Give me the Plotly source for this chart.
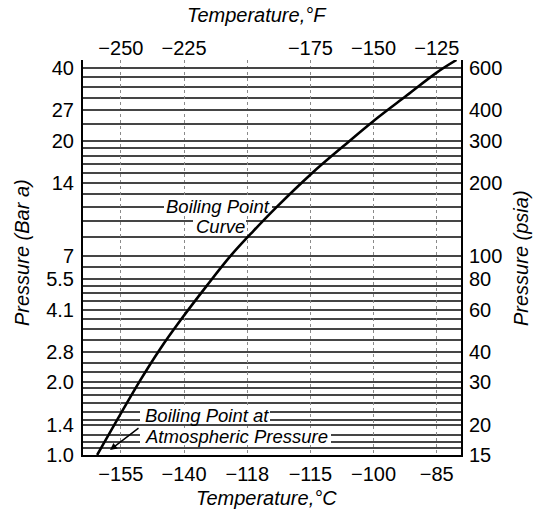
import math
import plotly.graph_objects as go

# ---- data ----
temp_f = [-259.4, -242.3, -234.4, -226.5, -215.9, -206.6, -197.5, -188.2,
          -174.6, -161.9, -150.0, -136.8, -124.9, -117.2]
pressure_psia = [15, 30.6, 41.3, 54, 75.5, 100, 127, 160,
                 219, 285, 362, 462, 575, 647]

grid_psia = [16, 17, 18.2, 20, 20.9, 22.7, 24.6, 26.6, 28.3, 30, 33, 36, 40,
             45, 50, 55, 60, 65, 70, 75, 80, 90, 100, 120, 140, 160, 180, 200,
             220, 240, 260, 280, 300, 350, 400, 450, 500, 550, 600]

f_ticks_top = [-250, -225, -175, -150, -125]
f_ticktext_top = ["\u2212250", "\u2212225", "\u2212175", "\u2212150", "\u2212125"]
f_ticks_bottom = [-250, -225, -200, -175, -150, -125]
c_ticktext_bottom = ["\u2212155", "\u2212140", "\u2212118", "\u2212115", "\u2212100", "\u221285"]

psia_ticks = [15, 20, 30, 40, 60, 80, 100, 200, 300, 400, 600]
psia_ticktext = ["15", "20", "30", "40", "60", "80", "100", "200", "300", "400", "600"]
bar_ticktext = ["1.0", "1.4", "2.0", "2.8", "4.1", "5.5", "7", "14", "20", "27", "40"]

x_range = [-265, -115.4]
y_range = [math.log10(15), math.log10(647)]

FONT = "Liberation Sans, Arial, Helvetica, sans-serif"

W, H = 533, 514
L, R, T, B = 83, 72, 60, 59
PW, PH = W - L - R, H - T - B


def px_x(px):  # pixel -> paper x
    return (px - L) / PW


def px_y(py):  # pixel -> paper y
    return 1 - (py - T) / PH


def fx(px):  # pixel -> data x (deg F)
    return x_range[0] + (px - L) / PW * (x_range[1] - x_range[0])


def ly(py):  # pixel -> log10 of data y
    return y_range[0] + (T + PH - py) / PH * (y_range[1] - y_range[0])


GRID = "#454545"

fig = go.Figure()
fig.add_trace(go.Scatter(x=temp_f, y=pressure_psia, mode="lines",
                         line=dict(color="black", width=2.6, shape="spline", smoothing=1.0),
                         showlegend=False, xaxis="x", yaxis="y"))
fig.add_trace(go.Scatter(x=temp_f[:1], y=pressure_psia[:1], mode="markers",
                         marker=dict(color="black", size=6),
                         showlegend=False, xaxis="x", yaxis="y", cliponaxis=False))
# invisible trace so the secondary (top / right) axes exist
fig.add_trace(go.Scatter(x=[x_range[0]], y=[15], mode="markers", opacity=0,
                         hoverinfo="skip", showlegend=False, xaxis="x2", yaxis="y2"))

tickfont = dict(family=FONT, size=20, color="black")
titlefont = dict(family=FONT, size=20, color="black", style="italic")
annfont = dict(family=FONT, size=18.5, color="black", style="italic")

# white boxes behind in-plot labels (between gridlines and traces)
boxes = [(164, 272, 198, 215), (193, 246, 217, 234),
         (140, 270, 405, 423), (140, 331, 428, 445)]
shapes = [dict(type="rect", xref="x", yref="y", layer="between",
               x0=fx(a), x1=fx(b), y0=10 ** ly(d), y1=10 ** ly(c),
               fillcolor="white", line=dict(width=0))
          for a, b, c, d in boxes]

fig.update_layout(
    width=W, height=H,
    margin=dict(l=L, r=R, t=T, b=B),
    paper_bgcolor="white", plot_bgcolor="white",
    xaxis=dict(range=x_range, tickvals=f_ticks_bottom, ticktext=c_ticktext_bottom,
               showgrid=True, gridcolor="#8a8a8a", griddash="dot", gridwidth=1,
               zeroline=False, showline=True, linecolor="black", linewidth=2,
               ticks="", ticklabelstandoff=0, tickfont=tickfont),
    xaxis2=dict(range=x_range, overlaying="x", side="top", anchor="y",
                tickvals=f_ticks_top, ticktext=f_ticktext_top,
                showgrid=False, zeroline=False, showline=False, ticks="",
                ticklabelstandoff=0, tickfont=tickfont),
    yaxis=dict(type="log", range=y_range, tickvals=psia_ticks, ticktext=bar_ticktext,
               showgrid=True, gridcolor=GRID, gridwidth=1.6,
               minor=dict(tickvals=grid_psia, showgrid=True, gridcolor=GRID,
                          gridwidth=1.6, ticks=""),
               zeroline=False, showline=True, linecolor="black",
               linewidth=2, ticks="", ticklabelstandoff=3, tickfont=tickfont),
    yaxis2=dict(type="log", range=y_range, overlaying="y", side="right", anchor="x",
                tickvals=psia_ticks, ticktext=psia_ticktext,
                showgrid=False, zeroline=False, showline=True, linecolor="black",
                linewidth=2, ticks="", ticklabelstandoff=2, tickfont=tickfont),
    shapes=shapes,
    annotations=[
        # axis titles
        dict(text="Temperature,\u00b0F", x=px_x(257), y=px_y(15), xref="paper", yref="paper",
             showarrow=False, font=titlefont, xanchor="center", yanchor="middle"),
        dict(text="Temperature,\u00b0C", x=px_x(266), y=px_y(498), xref="paper", yref="paper",
             showarrow=False, font=titlefont, xanchor="center", yanchor="middle"),
        dict(text="Pressure (Bar a)", x=px_x(22), y=px_y(253), xref="paper", yref="paper",
             showarrow=False, font=titlefont, textangle=-90, xanchor="center", yanchor="middle"),
        dict(text="Pressure (psia)", x=px_x(521), y=px_y(258), xref="paper", yref="paper",
             showarrow=False, font=titlefont, textangle=-90, xanchor="center", yanchor="middle"),
        # in-plot labels
        dict(text="Boiling Point", x=fx(217.5), y=ly(206.7), xref="x", yref="y",
             showarrow=False, font=annfont),
        dict(text="Curve", x=fx(220), y=ly(226.5), xref="x", yref="y",
             showarrow=False, font=annfont),
        dict(text="Boiling Point at", x=fx(143), y=ly(415), xref="x", yref="y",
             xanchor="left", showarrow=False, font=annfont),
        dict(text="Atmospheric Pressure", x=fx(143), y=ly(436.5), xref="x", yref="y",
             xanchor="left", showarrow=False, font=annfont),
        dict(text="", x=fx(110), y=ly(450), xref="x", yref="y",
             ax=30, ay=-23, showarrow=True, arrowhead=2, arrowsize=1,
             arrowwidth=1.4, arrowcolor="black"),
    ],
)

fig.write_html("out.html", config={"displayModeBar": False},
               post_script="document.body.style.margin='0';document.body.style.overflow='hidden';")
